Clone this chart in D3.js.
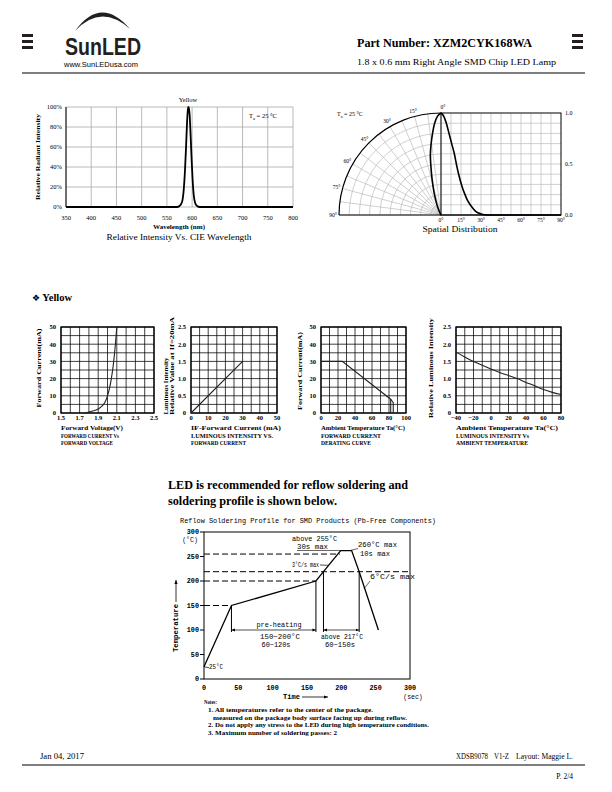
<!DOCTYPE html>
<html>
<head>
<meta charset="utf-8">
<script src="https://cdn.jsdelivr.net/npm/d3@7"></script>
<style>
body { margin: 0; background: #fff; }
svg { display: block; font-family: "Liberation Serif", "DejaVu Serif", serif; }
</style>
</head>
<body>
<div id="page"></div>
<script>
/*
*    XZM2CYK168WA datasheet page 2 - charts
*/

// spectrum (Yellow)
var specWave  = [350, 570, 575, 580, 583, 586, 588, 590, 592, 593, 595, 597, 599, 601, 603, 606, 610, 615, 800];
var specValue = [0, 0, 0.01, 0.05, 0.15, 0.38, 0.6, 0.85, 0.99, 1.0, 0.93, 0.72, 0.48, 0.27, 0.13, 0.04, 0.01, 0, 0];
var specXTicks = [350, 400, 450, 500, 550, 600, 650, 700, 750, 800];
var specYTicks = [0, 0.2, 0.4, 0.6, 0.8, 1.0];

// spatial distribution
var spatialAngle = [0, 2, 4, 6, 8, 10, 12, 14, 16, 18, 20, 23, 26, 30, 35, 90];
var spatialValue = [1.0, 0.97, 0.9, 0.8, 0.7, 0.6, 0.47, 0.36, 0.27, 0.2, 0.14, 0.08, 0.035, 0.01, 0, 0];
var spatialTicks = [0, 15, 30, 45, 60, 75, 90];
var spatialYTicks = [0, 0.5, 1.0];

// forward current vs forward voltage
var fvVoltage = [1.75, 1.8, 1.85, 1.9, 1.94, 1.97, 2.0, 2.02, 2.04, 2.06, 2.08, 2.1];
var fvCurrent = [0, 0.6, 1.3, 2.3, 4, 6, 10, 14, 19.6, 27, 37, 50];
var fvXTicks = [1.5, 1.7, 1.9, 2.1, 2.3, 2.5];
var fvYTicks = [0, 10, 20, 30, 40, 50];

// luminous intensity vs forward current
var ivCurrent = [0, 30];
var ivIntensity = [0, 1.5];
var ivXTicks = [0, 10, 20, 30, 40, 50];
var ivYTicks = [0, 0.5, 1.0, 1.5, 2.0, 2.5];

// forward current derating curve
var derTemp = [0, 25, 82, 85, 85];
var derCurrent = [30, 30, 8, 6, 0];
var derXTicks = [0, 20, 40, 60, 80, 100];
var derYTicks = [0, 10, 20, 30, 40, 50];

// luminous intensity vs ambient temperature
var itTemp = [-40, -30, -20, -10, 0, 10, 20, 30, 40, 50, 60, 70, 80];
var itIntensity = [1.77, 1.63, 1.5, 1.39, 1.28, 1.18, 1.09, 1.0, 0.89, 0.79, 0.68, 0.6, 0.54];
var itXTicks = [-40, -20, 0, 20, 40, 60, 80];
var itYTicks = [0, 0.5, 1.0, 1.5, 2.0, 2.5];

// reflow profile
var reflowTime = [0, 40, 163, 174, 199, 215, 226, 254];
var reflowTemp = [25, 150, 200, 219, 262, 262, 219, 100];
var reflowRefTemp = [150, 200, 219, 255];
var reflowRefEnd = [40, 163, 300, 198];
var reflowXTicks = [0, 50, 100, 150, 200, 250, 300];
var reflowYTicks = [0, 50, 100, 150, 200, 250, 300];


var svg = d3.select("#page")
    .append("svg")
    .attr("width", 612)
    .attr("height", 792);

svg.append("rect").attr("width", 612).attr("height", 792).attr("fill", "#fff");

var defs = svg.append("defs");
defs.append("marker")
    .attr("id", "arr")
    .attr("viewBox", "0 0 10 10")
    .attr("refX", 10).attr("refY", 5)
    .attr("markerWidth", 5).attr("markerHeight", 5)
    .attr("orient", "auto-start-reverse")
    .append("path").attr("d", "M0,1 L10,5 L0,9 Z").attr("fill", "#000");

var sans = "'Liberation Sans', Arial, sans-serif";
var mono = "'Liberation Mono', 'DejaVu Sans Mono', monospace";

function txt(g, x, y, s, o) {
    o = o || {};
    var t = g.append("text")
        .attr("x", x).attr("y", y)
        .attr("font-size", o.size || 7)
        .attr("text-anchor", o.anchor || "start")
        .attr("fill", "#000")
        .text(s);
    if (o.weight) t.attr("font-weight", o.weight);
    if (o.family) t.style("font-family", o.family);
    if (o.len) t.attr("textLength", o.len).attr("lengthAdjust", "spacingAndGlyphs");
    if (o.rotate) t.attr("transform", "rotate(-90," + x + "," + y + ")");
    return t;
}

function line(g, x1, y1, x2, y2, w, dash) {
    var l = g.append("line")
        .attr("x1", x1).attr("y1", y1).attr("x2", x2).attr("y2", y2)
        .attr("stroke", "#000").attr("stroke-width", w || 1);
    if (dash) l.attr("stroke-dasharray", dash);
    return l;
}

// ---------- header ----------
var head = svg.append("g");
[0, 6, 12].forEach(function(d) {
    head.append("rect").attr("x", 22).attr("y", 34 + d).attr("width", 11).attr("height", 3).attr("fill", "#231f20");
    head.append("rect").attr("x", 572).attr("y", 34 + d).attr("width", 11).attr("height", 3).attr("fill", "#231f20");
});
head.append("path")
    .attr("d", "M75,31 Q101,-5 130,29 Q101,3 75,31 Z")
    .attr("fill", "#231f20");
txt(head, 65, 55, "SunLED", { size: 24, weight: "bold", family: sans, len: 76 })
    .attr("fill", "#231f20");
txt(head, 64, 67, "www.SunLEDusa.com", { size: 7.5, family: sans, len: 74 });
txt(head, 357, 47, "Part Number: XZM2CYK168WA", { size: 11.5, weight: "bold", len: 175 });
txt(head, 357, 65, "1.8 x 0.6 mm Right Angle SMD Chip LED Lamp", { size: 8.5, len: 199 });
line(head, 22, 73, 585, 73, 1.2);

// ---------- spectrum ----------
var sx = d3.scaleLinear().domain([350, 800]).range([66, 293]);
var sy = d3.scaleLinear().domain([0, 1]).range([207, 107]);
var spec = svg.append("g");

spec.selectAll(null).data(specXTicks).enter().append("line")
    .attr("x1", function(d) { return sx(d); }).attr("x2", function(d) { return sx(d); })
    .attr("y1", sy(0)).attr("y2", sy(1))
    .attr("stroke", "#a8a8a8").attr("stroke-width", 0.8);
spec.selectAll(null).data(specYTicks).enter().append("line")
    .attr("x1", sx(350)).attr("x2", sx(800))
    .attr("y1", function(d) { return sy(d); }).attr("y2", function(d) { return sy(d); })
    .attr("stroke", "#a8a8a8").attr("stroke-width", 0.8);
line(spec, sx(350), sy(0), sx(350), sy(1), 1);

spec.selectAll(null).data(specXTicks).enter().append("text")
    .attr("x", function(d) { return sx(d); }).attr("y", 220)
    .attr("font-size", 6.5).attr("text-anchor", "middle")
    .text(function(d) { return d; });
spec.selectAll(null).data(specYTicks).enter().append("text")
    .attr("x", 62).attr("y", function(d) { return sy(d) + 2.3; })
    .attr("font-size", 6.5).attr("text-anchor", "end")
    .text(d3.format(".0%"));

spec.append("path")
    .datum(d3.zip(specWave, specValue))
    .attr("d", d3.line().x(function(d) { return sx(d[0]); }).y(function(d) { return sy(d[1]); }).curve(d3.curveMonotoneX))
    .attr("fill", "none").attr("stroke", "#000").attr("stroke-width", 1.8);

txt(spec, 188, 102, "Yellow", { size: 6.5, anchor: "middle" });
var ta1 = txt(spec, 249, 118, "T", { size: 6.5 });
ta1.append("tspan").attr("font-size", 4.5).attr("dy", 1.5).text("a");
ta1.append("tspan").attr("dy", -1.5).text(" = 25 °C");
txt(spec, 40, 157, "Relative Radiant Intensity", { size: 6, anchor: "middle", weight: "bold", rotate: true, len: 86 });
txt(spec, 179, 229, "Wavelength (nm)", { size: 6.5, anchor: "middle", weight: "bold", len: 52 });
txt(spec, 179, 240, "Relative Intensity Vs. CIE Wavelength", { size: 8, anchor: "middle", len: 145 });

// ---------- spatial distribution ----------
var cx = 441, cy = 215, R = 102;
var rr = d3.scaleLinear().domain([0, 1]).range([0, R]);
var ax = d3.scaleLinear().domain([0, 90]).range([cx, 561]);
var ay = d3.scaleLinear().domain([0, 1]).range([cy, cy - R]);
var rad = Math.PI / 180;
var spat = svg.append("g");

// polar grid
d3.range(1, 10).forEach(function(i) {
    var p = d3.path();
    p.moveTo(cx - rr(i / 10), cy);
    p.arc(cx, cy, rr(i / 10), Math.PI, 1.5 * Math.PI);
    spat.append("path").attr("d", p.toString()).attr("fill", "none").attr("stroke", "#bbb").attr("stroke-width", 0.7);
});
d3.range(0, 91, 7.5).forEach(function(a) {
    line(spat, cx, cy, cx - R * Math.sin(a * rad), cy - R * Math.cos(a * rad), 0.7).attr("stroke", "#bbb");
});
var outer = d3.path();
outer.moveTo(cx - R, cy);
outer.arc(cx, cy, R, Math.PI, 1.5 * Math.PI);
spat.append("path").attr("d", outer.toString()).attr("fill", "none").attr("stroke", "#000").attr("stroke-width", 1.2);

// cartesian grid
d3.range(7.5, 90, 7.5).forEach(function(a) {
    line(spat, ax(a), ay(0), ax(a), ay(1), 0.7).attr("stroke", "#bbb");
});
d3.range(1, 10).forEach(function(i) {
    line(spat, ax(0), ay(i / 10), ax(90), ay(i / 10), 0.7).attr("stroke", "#bbb");
});
spat.append("rect").attr("x", ax(0)).attr("y", ay(1)).attr("width", ax(90) - ax(0)).attr("height", ay(0) - ay(1))
    .attr("fill", "none").attr("stroke", "#000").attr("stroke-width", 1);
line(spat, cx - R, cy, ax(90), cy, 1.2);

var spatialPts = d3.zip(spatialAngle, spatialValue);
spat.append("path")
    .datum(spatialPts)
    .attr("d", d3.line()
        .x(function(d) { return cx - rr(d[1]) * Math.sin(d[0] * rad); })
        .y(function(d) { return cy - rr(d[1]) * Math.cos(d[0] * rad); })
        .curve(d3.curveCatmullRom))
    .attr("fill", "none").attr("stroke", "#000").attr("stroke-width", 1.6);
spat.append("path")
    .datum(spatialPts)
    .attr("d", d3.line()
        .x(function(d) { return ax(d[0]); })
        .y(function(d) { return ay(d[1]); })
        .curve(d3.curveMonotoneX))
    .attr("fill", "none").attr("stroke", "#000").attr("stroke-width", 1.6);

spat.selectAll(null).data(spatialTicks).enter().append("text")
    .attr("x", function(d) { return ax(d); }).attr("y", 222)
    .attr("font-size", 5.5).attr("text-anchor", "middle")
    .text(function(d) { return d + "°"; });
spat.selectAll(null).data(spatialTicks).enter().append("text")
    .attr("x", function(d) { return cx - 108 * Math.sin(d * rad) + (d === 0 ? 2 : 0); })
    .attr("y", function(d) { return cy - 108 * Math.cos(d * rad) + 2; })
    .attr("font-size", 5.5).attr("text-anchor", "middle")
    .text(function(d) { return d + "°"; });
spat.selectAll(null).data(spatialYTicks).enter().append("text")
    .attr("x", 565).attr("y", function(d) { return ay(d) + 2; })
    .attr("font-size", 6)
    .text(d3.format(".1f"));
var ta2 = txt(spat, 337, 116, "T", { size: 6 });
ta2.append("tspan").attr("font-size", 4.2).attr("dy", 1.5).text("a");
ta2.append("tspan").attr("dy", -1.5).text(" = 25 °C");
txt(spat, 460, 232, "Spatial Distribution", { size: 8, anchor: "middle", len: 75 });

// ---------- Yellow section ----------
var sec = txt(svg, 32, 301, "", { size: 10.5, weight: "bold" });
sec.append("tspan").style("font-family", "'DejaVu Sans'").attr("font-size", 9).text("❖");
sec.append("tspan").text(" Yellow");

function smallChart(o) {
    var x = d3.scaleLinear().domain(o.xDomain).range([o.left, o.right]);
    var y = d3.scaleLinear().domain(o.yDomain).range([413, 327]);
    var g = svg.append("g");
    var xs = d3.range(o.nx + 1).map(function(i) { return o.xDomain[0] + i * (o.xDomain[1] - o.xDomain[0]) / o.nx; });
    var ys = d3.range(11).map(function(i) { return o.yDomain[0] + i * (o.yDomain[1] - o.yDomain[0]) / 10; });

    g.selectAll(null).data(xs).enter().append("line")
        .attr("x1", function(d) { return x(d); }).attr("x2", function(d) { return x(d); })
        .attr("y1", 413).attr("y2", 327)
        .attr("stroke", "#000").attr("stroke-width", 0.75);
    g.selectAll(null).data(ys).enter().append("line")
        .attr("x1", o.left).attr("x2", o.right)
        .attr("y1", function(d) { return y(d); }).attr("y2", function(d) { return y(d); })
        .attr("stroke", "#000").attr("stroke-width", 0.75);
    g.append("rect").attr("x", o.left).attr("y", 327).attr("width", o.right - o.left).attr("height", 86)
        .attr("fill", "none").attr("stroke", "#000").attr("stroke-width", 1.3);

    g.selectAll(null).data(o.xTicks).enter().append("text")
        .attr("x", function(d) { return x(d); }).attr("y", 420)
        .attr("font-size", 6.5).attr("font-weight", "bold").attr("text-anchor", "middle")
        .text(o.xFormat);
    g.selectAll(null).data(o.yTicks).enter().append("text")
        .attr("x", o.left - 5).attr("y", function(d) { return y(d) + 2.3; })
        .attr("font-size", 6.5).attr("font-weight", "bold").attr("text-anchor", "end")
        .text(o.yFormat);

    o.series.forEach(function(s) {
        g.append("path")
            .datum(d3.zip(s[0], s[1]))
            .attr("d", d3.line().x(function(d) { return x(d[0]); }).y(function(d) { return y(d[1]); }).curve(o.curve || d3.curveLinear))
            .attr("fill", "none").attr("stroke", "#222").attr("stroke-width", 1.1);
    });

    o.yTitle.forEach(function(t, i) {
        txt(g, o.yTitleX + i * 6, t[2], t[0], { size: 6.3, weight: "bold", anchor: "middle", rotate: true, len: t[1] });
    });
    o.xTitle.forEach(function(t, i) {
        txt(g, o.left, 430 + i * 7.5, t[0], { size: i === 0 ? 6.3 : 6, weight: "bold", len: t[1] });
    });
    return g;
}

smallChart({
    left: 61, right: 154, xDomain: [1.5, 2.5], nx: 10, yDomain: [0, 50],
    xTicks: fvXTicks, yTicks: fvYTicks,
    xFormat: d3.format(".1f"), yFormat: function(d) { return d; },
    series: [[fvVoltage, fvCurrent]], curve: d3.curveMonotoneX,
    yTitleX: 41, yTitle: [["Forward Current(mA)", 79, 368]],
    xTitle: [["Forward Voltage(V)", 62], ["FORWARD CURRENT Vs", 58], ["FORWARD VOLTAGE", 52]]
});

smallChart({
    left: 191, right: 277, xDomain: [0, 50], nx: 10, yDomain: [0, 2.5],
    xTicks: ivXTicks, yTicks: ivYTicks,
    xFormat: function(d) { return d; }, yFormat: function(d) { return d === 0 ? "0" : d3.format(".1f")(d); },
    series: [[ivCurrent, ivIntensity]],
    yTitleX: 168, yTitle: [["Luminous Intensity", 57, 386], ["Relative Value at If=20mA", 98, 366]],
    xTitle: [["IF-Forward Current (mA)", 90], ["LUMINOUS INTENSITY VS.", 82], ["FORWARD CURRENT", 55]]
});

smallChart({
    left: 321, right: 406, xDomain: [0, 100], nx: 10, yDomain: [0, 50],
    xTicks: derXTicks, yTicks: derYTicks,
    xFormat: function(d) { return d; }, yFormat: function(d) { return d; },
    series: [[derTemp, derCurrent], [[82, 82], [8, 0]]],
    yTitleX: 302, yTitle: [["Forward Current(mA)", 78, 371]],
    xTitle: [["Ambient Temperature Ta(°C)", 84], ["FORWARD CURRENT", 60], ["DERATING CURVE", 50]]
});

smallChart({
    left: 456, right: 561, xDomain: [-40, 80], nx: 12, yDomain: [0, 2.5],
    xTicks: itXTicks, yTicks: itYTicks,
    xFormat: function(d) { return d < 0 ? "\u2212" + (-d) : d; }, yFormat: function(d) { return d === 0 ? "0" : d3.format(".1f")(d); },
    series: [[itTemp, itIntensity]], curve: d3.curveMonotoneX,
    yTitleX: 433, yTitle: [["Relative Luminous Intensity", 100, 368]],
    xTitle: [["Ambient Temperature Ta(°C)", 102], ["LUMINOUS INTENSITY Vs", 73], ["AMBIENT TEMPERATURE", 72]]
});

// ---------- reflow ----------
var rf = svg.append("g");
txt(rf, 168, 489, "LED is recommended for reflow soldering and", { size: 12.5, weight: "bold", len: 240 });
txt(rf, 168, 505, "soldering profile is shown below.", { size: 12.5, weight: "bold", len: 169 });

txt(rf, 180, 523, "Reflow Soldering Profile for SMD Products (Pb-Free Components)", { size: 7, family: mono, len: 256 });

var rx = d3.scaleLinear().domain([0, 300]).range([204, 410]);
var ry = d3.scaleLinear().domain([0, 300]).range([679, 532]);

rf.append("rect").attr("x", rx(0)).attr("y", ry(300)).attr("width", rx(300) - rx(0)).attr("height", ry(0) - ry(300))
    .attr("fill", "none").attr("stroke", "#000").attr("stroke-width", 1);

rf.selectAll(null).data(reflowYTicks).enter().append("line")
    .attr("x1", rx(0) - 4).attr("x2", rx(0))
    .attr("y1", function(d) { return ry(d); }).attr("y2", function(d) { return ry(d); })
    .attr("stroke", "#000");
rf.selectAll(null).data(reflowYTicks).enter().append("text")
    .attr("x", rx(0) - 5).attr("y", function(d) { return ry(d) + 2.3; })
    .attr("font-size", 6.8).style("font-family", mono).attr("font-weight", "bold").attr("text-anchor", "end")
    .text(function(d) { return d; });
txt(rf, 190, 542, "(°C)", { size: 6.5, family: mono, anchor: "middle" });
rf.selectAll(null).data(reflowXTicks).enter().append("text")
    .attr("x", function(d) { return rx(d); }).attr("y", 690)
    .attr("font-size", 6.8).style("font-family", mono).attr("font-weight", "bold").attr("text-anchor", "middle")
    .text(function(d) { return d; });
txt(rf, 413, 699, "(sec)", { size: 6.5, family: mono, anchor: "middle" });

txt(rf, 283, 699, "Time", { size: 7, family: mono, weight: "bold", len: 17 });
line(rf, 302, 697, 328, 697, 0.8).attr("marker-end", "url(#arr)");
txt(rf, 178, 628, "Temperature", { size: 7, family: mono, weight: "bold", anchor: "middle", rotate: true, len: 48 });
line(rf, 176, 602, 176, 580, 0.8).attr("marker-end", "url(#arr)");

// reference dashed lines
d3.zip(reflowRefTemp, reflowRefEnd).forEach(function(d) {
    line(rf, rx(0), ry(d[0]), rx(d[1]), ry(d[0]), 1, "6,3");
});

rf.append("path")
    .datum(d3.zip(reflowTime, reflowTemp))
    .attr("d", d3.line().x(function(d) { return rx(d[0]); }).y(function(d) { return ry(d[1]); }))
    .attr("fill", "none").attr("stroke", "#000").attr("stroke-width", 1.3);

// time brackets
[[40, 150], [163, 200], [174, 219], [226, 219]].forEach(function(d) {
    line(rf, rx(d[0]), ry(d[1]), rx(d[0]), ry(96), 1);
});
line(rf, rx(40), ry(100), rx(163), ry(100), 0.7).attr("marker-start", "url(#arr)").attr("marker-end", "url(#arr)");
line(rf, rx(174), ry(100), rx(226), ry(100), 0.7).attr("marker-start", "url(#arr)").attr("marker-end", "url(#arr)");

txt(rf, 279, 627, "pre-heating", { size: 8, family: mono, anchor: "middle", len: 45 });
txt(rf, 280, 639, "150~200°C", { size: 6.5, family: mono, anchor: "middle", len: 40 });
txt(rf, 276, 647, "60~120s", { size: 6.5, family: mono, anchor: "middle", len: 29 });
txt(rf, 342, 639, "above 217°C", { size: 6.5, family: mono, anchor: "middle", len: 42 });
txt(rf, 340, 647, "60~150s", { size: 6.5, family: mono, anchor: "middle", len: 30 });
txt(rf, 209, 669, "25°C", { size: 6.5, family: mono, len: 14 });
line(rf, rx(0), ry(25), rx(0) + 5, ry(25) + 1, 0.7);

txt(rf, 292, 541, "above 255°C", { size: 6.5, family: mono, len: 45 });
txt(rf, 297, 549, "30s max", { size: 6.5, family: mono, len: 31 });
line(rf, 297, 550.5, rx(198), 550.5, 0.6);
txt(rf, 358, 547, "260°C max", { size: 6.5, family: mono, len: 39 });
txt(rf, 360, 556, "10s max", { size: 6.5, family: mono, len: 30 });
line(rf, rx(212), ry(262), 358, 548.5, 0.6);
txt(rf, 292, 567, "3°C/s max", { size: 6.5, family: mono, len: 27 });
line(rf, 320, 565, rx(182), ry(232), 0.7);
txt(rf, 370, 579, "6°C/s max", { size: 6.5, family: mono, len: 45 });
rf.append("path")
    .attr("d", "M370,581 Q367,585 " + rx(233) + "," + ry(184))
    .attr("fill", "none").attr("stroke", "#000").attr("stroke-width", 0.6);

// notes
var noteY = [704, 712, 720, 727, 735];
var noteX = [204, 208, 213, 208, 208];
var noteLen = [13, 165, 194, 221, 129];
var notes = ["Notes:",
    "1. All temperatures refer to the center of the package.",
    "measured on the package body surface facing up during reflow.",
    "2. Do not apply any stress to the LED during high temperature conditions.",
    "3. Maximum number of soldering passes: 2"];
notes.forEach(function(s, i) {
    txt(rf, noteX[i], noteY[i], s, { size: 5.5, weight: "bold", len: noteLen[i] });
});

// ---------- footer ----------
var foot = svg.append("g");
txt(foot, 40, 759, "Jan 04, 2017", { size: 7.5, len: 44 });
txt(foot, 456, 759, "XDSB9078", { size: 7.5, len: 32 });
txt(foot, 494, 759, "V1-Z", { size: 7.5, len: 15 });
txt(foot, 516, 759, "Layout: Maggie L.", { size: 7.5, len: 57 });
line(foot, 22, 765, 585, 765, 1.2);
txt(foot, 573, 779, "P. 2/4", { size: 7.5, anchor: "end" });
</script>
</body>
</html>
